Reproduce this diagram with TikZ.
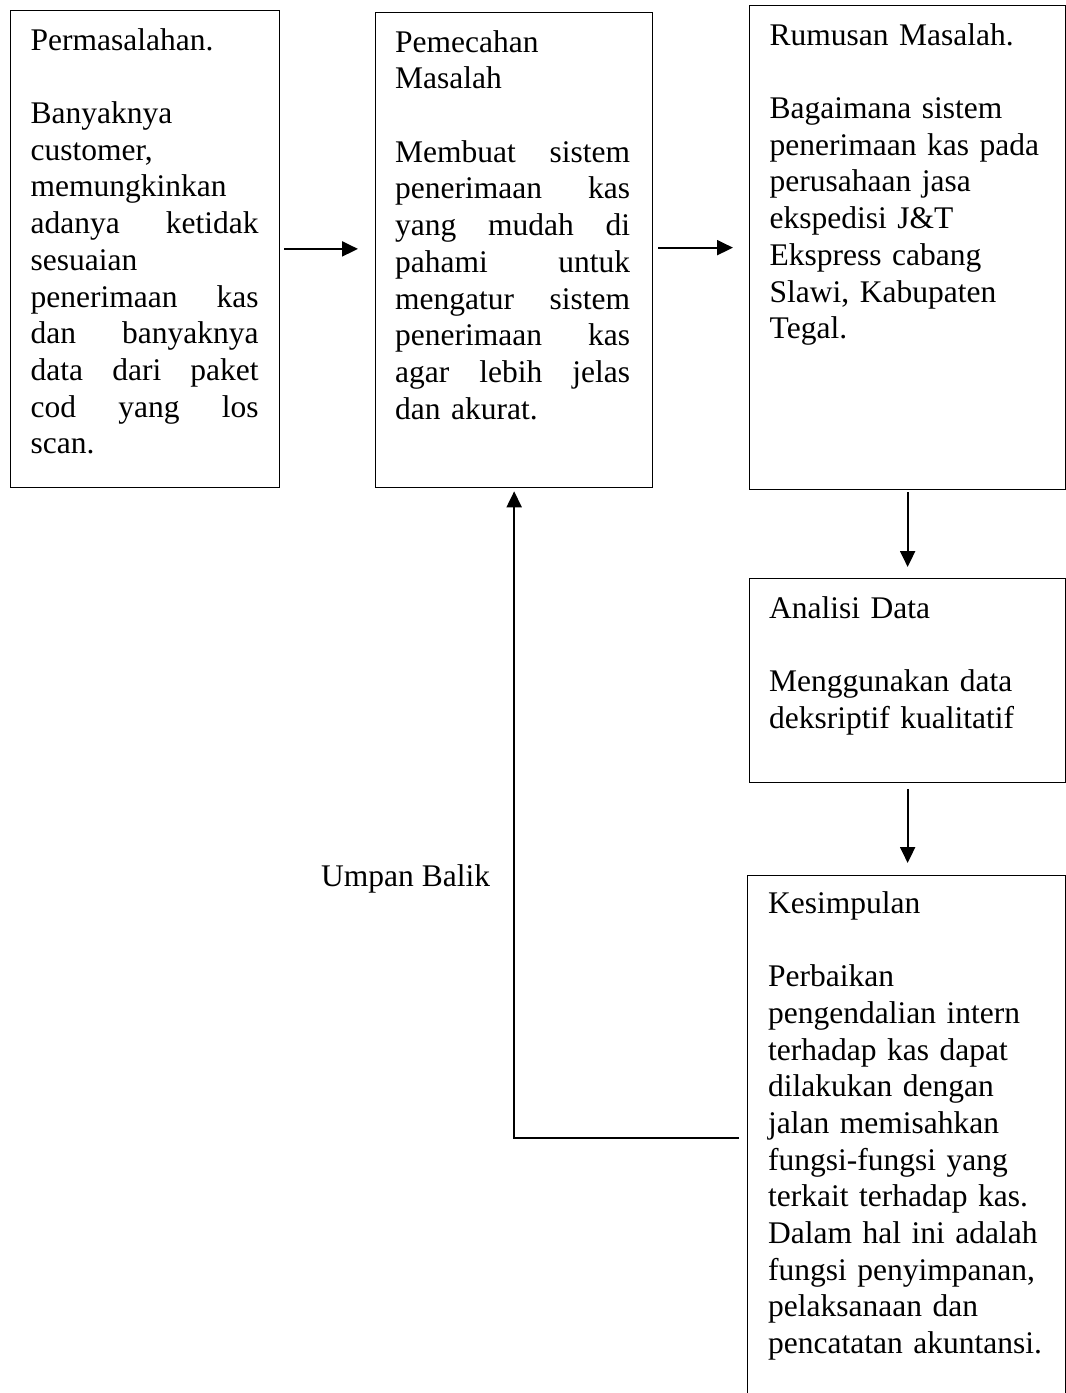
\documentclass[tikz,border=0pt]{standalone}
\usepackage{fontspec}
\setmainfont{Liberation Serif}
\usetikzlibrary{arrows.meta}

\begin{document}
\begin{tikzpicture}[x=1pt,y=-1pt,
        kotak/.style={draw,line width=1.3pt,inner sep=0pt,anchor=north west},
        teks/.style={inner sep=0pt,anchor=north west,align=left,font=\fontsize{31.5}{36.7}\selectfont},
        panah/.style={line width=2pt,-{Triangle[length=16pt,width=15pt]}}]
        \useasboundingbox (0,0) rectangle (1066,1393);
        % 方框
        \node [kotak,minimum width=269pt,minimum height=477.5pt] (permasalahan) at (10,9.5) {};
        \node [kotak,minimum width=277pt,minimum height=475pt] (pemecahan) at (375,12) {};
        \node [kotak,minimum width=316pt,minimum height=484pt] (rumusan) at (749,5) {};
        \node [kotak,minimum width=316pt,minimum height=204pt] (analisis) at (749,578) {};
        \node [kotak,minimum width=318pt,minimum height=525pt] (kesimpulan) at (747,875) {};
        % 方框里的文字
        \node [teks,text width=228pt] (tekspermasalahan) at (30.5,24.3) {\strut Permasalahan.\\[36.7pt]
            Banyaknya\\
            customer,\\
            memungkinkan\\
            adanya\hfill ketidak\\
            sesuaian\\
            penerimaan\hfill kas\\
            dan\hfill banyaknya\\
            data\hfill dari\hfill paket\\
            cod\hfill yang\hfill los\\
            scan.};
        \node [teks,text width=235pt] (tekspemecahan) at (395,26.3) {\strut Pemecahan\\
            Masalah\\[36.7pt]
            Membuat\hfill sistem\\
            penerimaan\hfill kas\\
            yang\hfill mudah\hfill di\\
            pahami\hfill untuk\\
            mengatur\hfill sistem\\
            penerimaan\hfill kas\\
            agar\hfill lebih\hfill jelas\\
            dan akurat.};
        \node [teks,text width=285pt] (teksrumusan) at (769.5,19.3) {\strut Rumusan Masalah.\\[36.7pt]
            Bagaimana sistem\\
            penerimaan kas pada\\
            perusahaan jasa\\
            ekspedisi J\&T\\
            Ekspress cabang\\
            Slawi, Kabupaten\\
            Tegal.};
        \node [teks,text width=285pt] (teksanalisis) at (769,592.3) {\strut Analisi Data\\[36.7pt]
            Menggunakan data\\
            deksriptif kualitatif};
        \node [teks,text width=285pt] (tekskesimpulan) at (768,887.3) {\strut Kesimpulan\\[36.7pt]
            Perbaikan\\
            pengendalian intern\\
            terhadap kas dapat\\
            dilakukan dengan\\
            jalan memisahkan\\
            fungsi-fungsi yang\\
            terkait terhadap kas.\\
            Dalam hal ini adalah\\
            fungsi penyimpanan,\\
            pelaksanaan dan\\
            pencatatan akuntansi.};
        % 箭头
        \draw [panah,shorten <=4pt,shorten >=17pt] (permasalahan.east) -- (permasalahan.east -| pemecahan.west);
        \draw [panah,shorten <=5pt,shorten >=16pt] (rumusan.west -| pemecahan.east) -- (rumusan.west);
        \draw [panah,shorten <=2pt,shorten >=11pt] (rumusan.south) -- (rumusan.south |- analisis.north);
        \draw [panah,shorten <=6pt,shorten >=12pt] (analisis.south) -- (analisis.south |- kesimpulan.north);
        % 反馈
        \coordinate (balik) at (739,1138);
        \draw [panah,shorten >=3pt] (balik) -| (pemecahan.south);
        \node [inner sep=0pt,anchor=base west,font=\fontsize{31.5}{36.7}\selectfont] (umpanbalik) at (321,886) {Umpan Balik};
    \end{tikzpicture}
\end{document}
